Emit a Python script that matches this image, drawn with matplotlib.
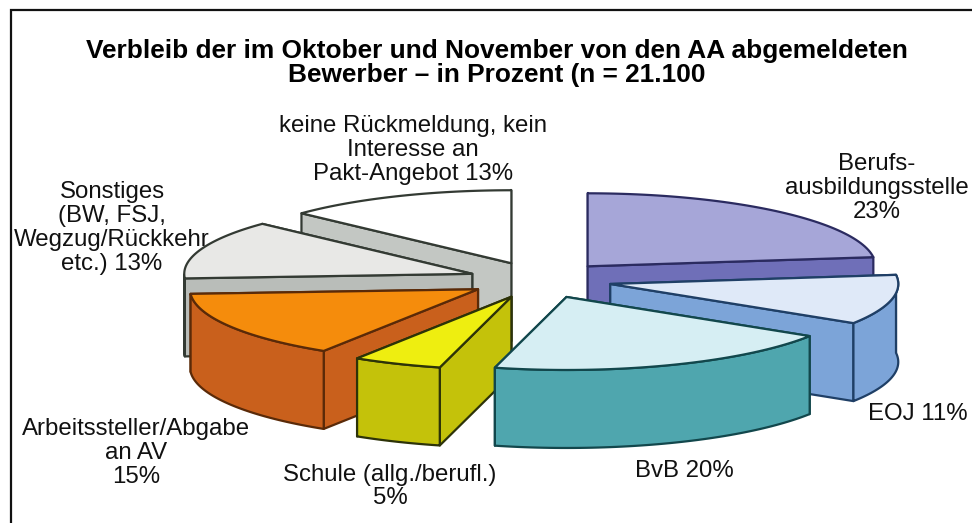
import numpy as np
import matplotlib
matplotlib.use("Agg")
import matplotlib.pyplot as plt
from matplotlib.patches import Polygon

# slices, clockwise from twelve o'clock
slice_names = ["Berufsausbildungsstelle", "EOJ", "BvB", "Schule", "Arbeitssteller", "Sonstiges", "keine Rueckmeldung"]
shares = [23, 11, 20, 5, 15, 13, 13]
top_colors = ["#a6a6d8", "#dfe9f8", "#d6eef3", "#eeee10", "#f58c0c", "#e8e8e6", "#ffffff"]
side_colors = ["#6f6fb8", "#7ca4d8", "#4fa6ae", "#c4c20a", "#c9601c", "#b9bdb9", "#c3c7c3"]
edge_colors = ["#2b2b60", "#1f3f66", "#12474c", "#2d3308", "#5a2a08", "#333a33", "#333a33"]

# painter's order, back to front
draw_order = [6, 0, 5, 1, 4, 3, 2]

title_text = "Verbleib der im Oktober und November von den AA abgemeldeten\nBewerber \u2013 in Prozent (n = 21.100"

CX, CY = 540, 280
RX, RY = 288, 73
DEPTH = 78
EXPLODE = 0.25

plt.rcParams["font.family"] = ["Liberation Sans", "DejaVu Sans"]

fig = plt.figure(figsize=(9.72, 5.23), dpi=100, facecolor="white")
ax = fig.add_axes([0, 0, 1, 1])
ax.set_xlim(0, 972)
ax.set_ylim(523, 0)
ax.axis("off")


def on_ellipse(x0, y0, ang):
    """Point of the pie ellipse at a clockwise angle from the top."""
    return x0 + RX * np.sin(ang), y0 - RY * np.cos(ang)


def draw_slice(start, end, top, side, edge):
    mid = (start + end) / 2
    ax0, ay0 = on_ellipse(CX, CY, mid)
    apex_x = CX + EXPLODE * (ax0 - CX)
    apex_y = CY + EXPLODE * (ay0 - CY)

    angs = np.linspace(start, end, 60)
    arc_x, arc_y = on_ellipse(apex_x, apex_y, angs)
    style = dict(edgecolor=edge, linewidth=1.6, joinstyle="round")

    # cut faces, the one further back first
    cuts = sorted([0, -1], key=lambda i: arc_y[i])
    for i in cuts:
        pts = [(apex_x, apex_y), (arc_x[i], arc_y[i]),
               (arc_x[i], arc_y[i] + DEPTH), (apex_x, apex_y + DEPTH)]
        ax.add_patch(Polygon(pts, closed=True, facecolor=side, **style))

    # outer rim, only where it faces the viewer
    # (EOJ starts a little above the widest point, so keep that bit on the right)
    front = (np.cos(angs) < 0) | ((np.sin(angs) > 0) & (np.cos(angs) < 0.13))
    if front.sum() > 1:
        rx, ry = arc_x[front], arc_y[front]
        pts = np.vstack([np.column_stack([rx, ry]),
                         np.column_stack([rx[::-1], ry[::-1] + DEPTH])])
        ax.add_patch(Polygon(pts, closed=True, facecolor=side, **style))

    pts = np.vstack([[(apex_x, apex_y)], np.column_stack([arc_x, arc_y])])
    ax.add_patch(Polygon(pts, closed=True, facecolor=top, **style))


bounds = np.radians(np.cumsum([0] + shares) * 3.6)
for k in draw_order:
    draw_slice(bounds[k], bounds[k + 1], top_colors[k], side_colors[k], edge_colors[k])

# frame, cut off by the image on the right and at the bottom
ax.plot([11, 11, 972], [523, 10, 10], color="#111111", lw=1.6, solid_joinstyle="miter")

ax.text(496.5, 63, title_text, ha="center", va="center", fontsize=18.9,
        fontweight="bold", linespacing=1.05)

label_font = dict(ha="center", va="center", fontsize=17.3, color="#111111", linespacing=1.11)
ax.text(413, 150, "keine R\u00fcckmeldung, kein\nInteresse an\nPakt-Angebot 13%", **label_font)
ax.text(877, 188, "Berufs-\nausbildungsstelle\n23%", **label_font)
ax.text(112, 228, "Sonstiges\n(BW, FSJ,\nWegzug/R\u00fcckkehr\netc.) 13%", **label_font)
ax.text(917.5, 414, "EOJ 11%", **label_font)
ax.text(684, 471, "BvB 20%", **label_font)
ax.text(136, 453, "Arbeitssteller/Abgabe\nan AV\n15%", **label_font)
ax.text(390, 486.5, "Schule (allg./berufl.)\n5%", **label_font)

fig.savefig("out.png", dpi=100)
